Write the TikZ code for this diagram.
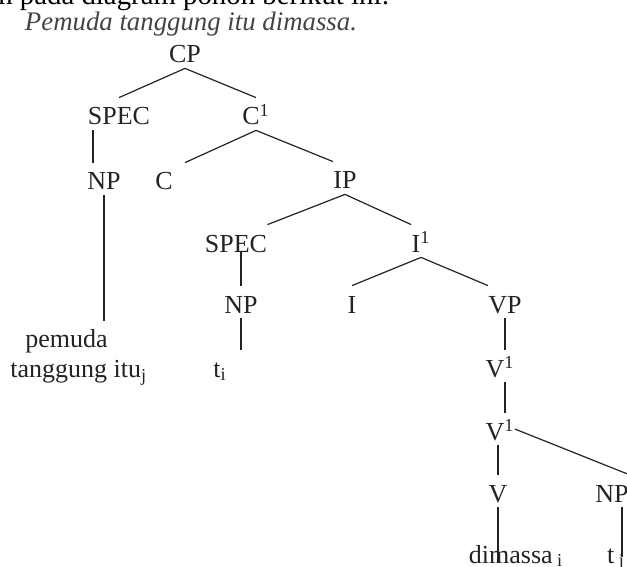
\documentclass[tikz,border=0pt]{standalone}
\usepackage{fontspec}
\setmainfont{Liberation Serif}
\usepackage{tikz}
\definecolor{inkgray}{RGB}{35,35,35}
\tikzstyle{cat} = [anchor=base, inner sep=0pt, text height=13.5pt, text depth=2.5pt, font=\fontsize{13}{15}\selectfont, text=inkgray]
\tikzstyle{branch} = [line width=0.6pt, draw=inkgray]
\newcommand{\barlvl}[1]{#1\textsuperscript{1}}

\begin{document}
\begin{tikzpicture}[x=0.5pt, y=-0.5pt]
\clip (0,0) rectangle (627,567);
% sentence above the tree
\node[anchor=base west, inner sep=0pt, font=\fontsize{14.4}{17}\selectfont] (intro) at (-2,5) {n pada diagram pohon berikut ini:};
\node[anchor=base, inner sep=0pt, font=\fontsize{13.4}{16}\selectfont\itshape, text=inkgray!85] (sentence) at (191,31) {Pemuda tanggung itu dimassa.};
% categories
\node[cat] (cp) at (185,63) {CP};
\node[cat] (spec1) at (119,125) {SPEC};
\node[cat] (c1) at (256,125) {\barlvl{C}};
\node[cat] (np1) at (104,190) {NP};
\node[cat] (c2) at (164,190) {C};
\node[cat] (ip) at (345,189) {IP};
\node[cat] (spec2) at (236,252) {SPEC};
\node[cat] (i1) at (421,252) {\barlvl{I}};
\node[cat] (np2) at (241,313) {NP};
\node[cat] (i2) at (352,313) {I};
\node[cat] (vp) at (505,313) {VP};
\node[cat] (v1) at (500,377) {\barlvl{V}};
\node[cat] (v2) at (500,440) {\barlvl{V}};
\node[cat] (v3) at (498,502) {V};
\node[cat] (np3) at (612,502) {NP};
% words
\node[anchor=north west, inner sep=0pt, align=left, font=\fontsize{13}{15}\selectfont, text=inkgray] (words) at (10,329) {\hspace*{7.5pt}pemuda\\tanggung itu\textsubscript{j}};
\node[cat] (ti) at (220,377) {t\textsubscript{i}};
\node[cat] (dim) at (516,563) {dimassa\,\textsubscript{i}};
\node[cat] (tj) at (616,563) {t\,\textsubscript{j}};
% branches
\draw[branch] (cp.south) -- (spec1.north);
\draw[branch] (cp.south) -- (c1.north);
\draw[branch] ([xshift=-5.5pt]np1.north |- spec1.south) -- ([xshift=-5.5pt]np1.north);
\draw[branch] (c1.south) -- ([xshift=10.5pt]c2.north);
\draw[branch] (c1.south) -- (ip.north west);
\draw[branch] (np1.south) -- ([yshift=4pt]np1.south |- words.north);
\draw[branch] (ip.south) -- (spec2.north east);
\draw[branch] (ip.south) -- (i1.north west);
\draw[branch] (np2.north |- spec2.base) -- (np2.north);
\draw[branch] (i1.south) -- (i2.north);
\draw[branch] (i1.south) -- (vp.north west);
\draw[branch] (np2.south) -- (np2.south |- ti.north);
\draw[branch] (vp.south) -- (vp.south |- v1.north);
\draw[branch] ([xshift=2.5pt]v1.south) -- ([xshift=2.5pt]v2.north);
\draw[branch] (v2.east) -- (np3.north east);
\draw[branch] (v3.north |- v2.south) -- (v3.north);
\draw[branch] (v3.south) -- (v3.south |- dim.base);
\draw[branch] ([xshift=5pt]np3.south) -- ([xshift=5pt,yshift=3pt]np3.south |- tj.base);
\end{tikzpicture}
\end{document}
